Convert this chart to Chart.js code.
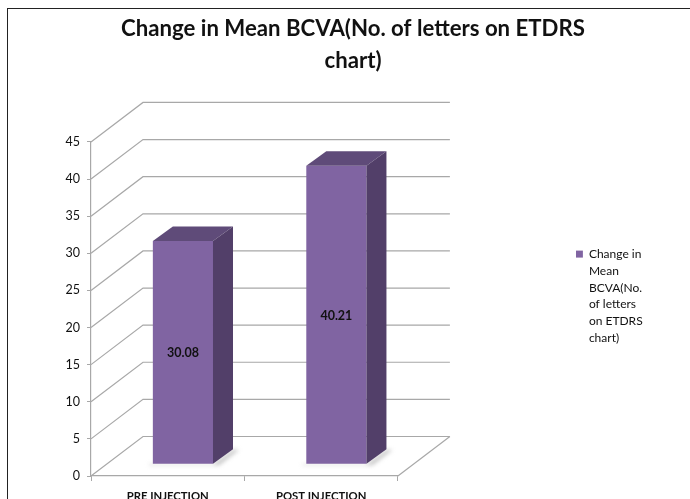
<!DOCTYPE html>
<html lang="en">
<head>
  <meta charset="UTF-8" />
  <title>Change in Mean BCVA</title>
  <script src="https://cdn.jsdelivr.net/npm/chart.js"></script>
  <style>
    html, body { margin: 0; padding: 0; background: #fff; overflow: hidden; }
    .frame {
      position: absolute; left: 7px; top: 8px; width: 683px; height: 491px;
      border-left: 1px solid #222; border-top: 1px solid #222;
      box-sizing: border-box;
    }
    canvas { position: absolute; left: 0; top: 0; }
  </style>
</head>
<body>
  <div class="frame"></div>
  <canvas id="bcvaChart" width="690" height="499"></canvas>

  <script>
    const categories = ["PRE INJECTION", "POST INJECTION"];
    const bcvaValues = [30.08, 40.21];
    const yTicks = [0, 5, 10, 15, 20, 25, 30, 35, 40, 45];
    const titleLines = ["Change in Mean BCVA(No. of letters on ETDRS", "chart)"];
    const legendLines = ["Change in", "Mean", "BCVA(No.", "of letters", "on ETDRS", "chart)"];

    const FONT = "Lato, 'Open Sans', sans-serif";
    const GRID = "#a8a8a8";
    const FRONT = "#8064a2", TOP = "#5f4b79", SIDE = "#523f69";

    // depth of the 3D box: wall offset, bar depth, bar offset from the front plane
    const WALL_DX = 52, WALL_DY = 39.5;
    const BAR_DX = 20, BAR_DY = 14.5;
    const SHIFT_X = 15.2, SHIFT_Y = 11.7;

    function poly(ctx, pts, fill) {
      ctx.beginPath();
      pts.forEach((p, i) => i ? ctx.lineTo(p[0], p[1]) : ctx.moveTo(p[0], p[1]));
      ctx.closePath();
      ctx.fillStyle = fill;
      ctx.fill();
    }

    const box3d = {
      id: "box3d",
      afterLayout(chart) {
        // legend sits lower and further left than the default right-side slot
        const lg = chart.legend;
        lg.top += 98;
        lg.left -= 44;
        lg.right -= 44;
      },
      beforeDraw(chart) {
        const { ctx, chartArea: a, scales: { y } } = chart;
        ctx.save();
        ctx.strokeStyle = GRID;
        ctx.lineWidth = 1.2;
        yTicks.forEach(t => {
          const py = y.getPixelForValue(t);
          ctx.beginPath();
          ctx.moveTo(a.left, py);
          ctx.lineTo(a.left + WALL_DX, py - WALL_DY);
          ctx.lineTo(a.right + WALL_DX, py - WALL_DY);
          ctx.stroke();
        });
        // floor right edge
        const p0 = y.getPixelForValue(0);
        ctx.beginPath();
        ctx.moveTo(a.right, p0);
        ctx.lineTo(a.right + WALL_DX, p0 - WALL_DY);
        ctx.stroke();
        ctx.restore();
      },
      beforeDatasetsDraw(chart) {
        const { ctx } = chart;
        // bar shadows on the floor
        const meta = chart.getDatasetMeta(0);
        const p0 = chart.scales.y.getPixelForValue(0);
        ctx.save();
        ctx.filter = "blur(2px)";
        meta.data.forEach(bar => {
          const r = bar.x + bar.width / 2 + SHIFT_X;
          const l = bar.x - bar.width / 2 + SHIFT_X;
          const b = p0 - SHIFT_Y;
          poly(ctx, [[r, b], [r + BAR_DX, b - BAR_DY], [r + BAR_DX + 6, b - BAR_DY], [r + 6, b + 1], [l - 4, b + 1], [l - 4, b]], "rgba(150,150,150,0.55)");
        });
        ctx.restore();
        ctx.save();
        ctx.translate(SHIFT_X, -SHIFT_Y);
      },
      afterDatasetsDraw(chart) {
        const { ctx } = chart;
        const meta = chart.getDatasetMeta(0);
        meta.data.forEach((bar, i) => {
          const l = bar.x - bar.width / 2, r = bar.x + bar.width / 2;
          const t = bar.y, b = bar.base;
          poly(ctx, [[l, t], [l + BAR_DX, t - BAR_DY], [r + BAR_DX, t - BAR_DY], [r, t]], TOP);
          poly(ctx, [[r, t], [r + BAR_DX, t - BAR_DY], [r + BAR_DX, b - BAR_DY], [r, b]], SIDE);
          ctx.fillStyle = "#111";
          ctx.font = "bold 12.5px " + FONT;
          ctx.textAlign = "center";
          ctx.textBaseline = "middle";
          ctx.fillText(bcvaValues[i].toFixed(2), bar.x, (t + b) / 2 + 1);
        });
        ctx.restore();
      }
    };

    new Chart(document.getElementById("bcvaChart"), {
      type: "bar",
      data: {
        labels: categories,
        datasets: [{
          label: legendLines,
          data: bcvaValues,
          backgroundColor: FRONT,
          borderWidth: 0,
          barPercentage: 0.392,
          categoryPercentage: 1
        }]
      },
      plugins: [box3d],
      options: {
        responsive: false,
        animation: false,
        layout: { padding: { left: 16, right: 0, top: 0, bottom: 0 } },
        scales: {
          x: {
            offset: true,
            border: { color: GRID, width: 1.2 },
            grid: { color: GRID, offset: true, drawOnChartArea: false, tickLength: 5 },
            ticks: { color: "#111", font: { family: FONT, size: 11.3, weight: "bold" }, padding: 9, maxRotation: 0, autoSkip: false },
            afterFit(s) { s.height = 23; }
          },
          y: {
            min: 0,
            max: 45,
            border: { color: GRID, width: 1.2 },
            grid: { color: GRID, drawOnChartArea: false, tickLength: 4 },
            ticks: { stepSize: 5, color: "#111", font: { family: FONT, size: 12.5 }, padding: 7 },
            afterFit(s) { s.width = 75; }
          },
          // empty axis, only keeps the gap between the plot and the legend
          gap: {
            type: "linear",
            position: "right",
            grid: { display: false },
            border: { display: false },
            ticks: { display: false },
            afterFit(s) { s.width = 222; }
          }
        },
        plugins: {
          title: {
            display: true,
            text: titleLines,
            color: "#111",
            font: { family: FONT, size: 22.2, weight: "bold", lineHeight: 1.44 },
            padding: { top: 13, bottom: 65 }
          },
          legend: {
            position: "right",
            labels: {
              boxWidth: 7,
              boxHeight: 7,
              padding: 0,
              color: "#111",
              font: { family: FONT, size: 12, lineHeight: 1.4 }
            }
          },
          tooltip: { enabled: false }
        }
      }
    });
  </script>
</body>
</html>
